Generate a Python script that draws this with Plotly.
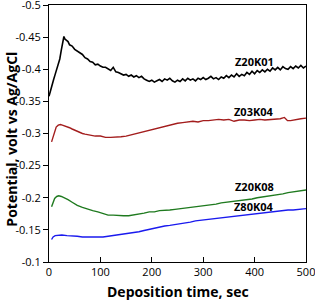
import plotly.graph_objects as go

# Z20K01 (black)
t_k01 = [0, 3, 6, 9, 12, 15, 18, 21, 24, 27, 29, 31, 34, 37, 40,
         45, 50, 55, 60, 65, 70, 75, 80, 85, 90, 95, 100, 105, 110, 115, 120, 125, 130, 135,
         140, 145, 150, 155, 160, 165, 170, 175, 180, 185, 190, 195, 200, 205, 210, 215, 220,
         225, 230, 235, 240, 245, 250, 255, 260, 265, 270, 275, 280, 285, 290, 295, 300, 305,
         310, 315, 320, 325, 330, 335, 340, 345, 350, 355, 360, 365, 370, 375, 380, 385, 390,
         395, 400, 405, 410, 415, 420, 425, 430, 435, 440, 445, 450, 455, 460, 465, 470, 475,
         480, 485, 490, 495, 500]
v_k01 = [-0.358, -0.368, -0.376, -0.384, -0.392, -0.399, -0.407, -0.416, -0.430, -0.446, -0.451,
         -0.447, -0.445, -0.443, -0.438,
         -0.436, -0.431, -0.428, -0.425, -0.423, -0.418, -0.416, -0.412, -0.411, -0.407, -0.408,
         -0.405, -0.403, -0.403, -0.400, -0.398, -0.403, -0.396, -0.395,
         -0.393, -0.391, -0.392, -0.389, -0.391, -0.388, -0.390, -0.387, -0.389, -0.385, -0.383,
         -0.381, -0.383, -0.380, -0.382, -0.384, -0.381, -0.385, -0.383, -0.386, -0.382, -0.380,
         -0.383, -0.381, -0.385, -0.382, -0.386, -0.383, -0.385, -0.382, -0.386, -0.384, -0.387,
         -0.384, -0.386, -0.389, -0.385, -0.387, -0.384, -0.388, -0.386, -0.390, -0.387, -0.391,
         -0.388, -0.393, -0.389, -0.392, -0.390, -0.395, -0.392, -0.397, -0.393, -0.398, -0.395,
         -0.399, -0.396, -0.400, -0.397, -0.402, -0.399, -0.403, -0.399, -0.404, -0.401, -0.400,
         -0.404, -0.401, -0.405, -0.402, -0.406, -0.402, -0.405]

# Z03K04 (dark red)
t_k04a = [5, 8, 11, 14, 18, 22, 26, 30, 35, 40, 45, 50, 55, 60, 65, 70, 75, 80, 90, 100, 110,
          120, 130, 140, 150, 160, 170, 180, 190, 200, 210, 220, 230, 240, 250, 260, 270, 280,
          290, 300, 310, 320, 330, 340, 350, 360, 370, 380, 390, 400, 410, 420, 430, 440, 450,
          458, 464, 470, 480, 490, 500]
v_k04a = [-0.287, -0.296, -0.304, -0.310, -0.313, -0.314, -0.313, -0.312, -0.310, -0.309, -0.307,
          -0.305, -0.303, -0.302, -0.300, -0.299, -0.298, -0.297, -0.296, -0.296, -0.294, -0.294,
          -0.294, -0.295, -0.296, -0.298, -0.301, -0.302, -0.304, -0.306, -0.309, -0.310, -0.313,
          -0.314, -0.316, -0.317, -0.318, -0.319, -0.318, -0.320, -0.320, -0.321, -0.322, -0.321,
          -0.322, -0.319, -0.321, -0.321, -0.320, -0.321, -0.322, -0.321, -0.322, -0.322, -0.323,
          -0.325, -0.320, -0.320, -0.322, -0.323, -0.324]

# Z20K08 (green)
t_k08 = [5, 8, 11, 15, 19, 24, 30, 37, 45, 55, 65, 75, 85, 95, 105, 115, 125, 135, 145, 155,
         165, 175, 185, 195, 205, 215, 225, 235, 245, 255, 265, 275, 285, 295, 305, 315, 325,
         335, 345, 355, 365, 375, 385, 395, 405, 415, 425, 435, 445, 455, 465, 475, 485, 495, 500]
v_k08 = [-0.186, -0.193, -0.199, -0.202, -0.203, -0.202, -0.200, -0.197, -0.193, -0.188, -0.185,
         -0.182, -0.180, -0.178, -0.175, -0.173, -0.173, -0.172, -0.172, -0.172, -0.173, -0.174,
         -0.176, -0.178, -0.178, -0.180, -0.180, -0.181, -0.182, -0.183, -0.184, -0.185, -0.186,
         -0.186, -0.188, -0.189, -0.190, -0.192, -0.193, -0.193, -0.195, -0.196, -0.197, -0.198,
         -0.200, -0.201, -0.203, -0.204, -0.205, -0.206, -0.208, -0.209, -0.210, -0.212, -0.212]

# Z80K04 (blue)
t_k04b = [5, 8, 12, 18, 25, 35, 45, 55, 65, 75, 85, 95, 105, 115, 125, 135, 145, 155, 165, 175,
          185, 195, 205, 215, 225, 235, 245, 255, 265, 275, 285, 295, 305, 315, 325, 335, 345,
          355, 365, 375, 385, 395, 405, 415, 425, 435, 445, 455, 465, 475, 485, 495, 500]
v_k04b = [-0.135, -0.139, -0.141, -0.142, -0.142, -0.141, -0.141, -0.140, -0.139, -0.139, -0.138,
          -0.139, -0.139, -0.140, -0.141, -0.142, -0.143, -0.144, -0.146, -0.147, -0.149, -0.151,
          -0.153, -0.154, -0.156, -0.157, -0.158, -0.159, -0.161, -0.162, -0.164, -0.165, -0.166,
          -0.167, -0.168, -0.169, -0.170, -0.171, -0.172, -0.173, -0.174, -0.175, -0.176, -0.177,
          -0.178, -0.179, -0.179, -0.180, -0.181, -0.181, -0.182, -0.183, -0.183]

series_names = ["Z20K01", "Z03K04", "Z20K08", "Z80K04"]
label_x = [399, 399, 399, 399]
label_y = [-0.412, -0.334, -0.217, -0.186]

x_ticks = [0, 100, 200, 300, 400, 500]
y_ticks = [-0.5, -0.45, -0.4, -0.35, -0.3, -0.25, -0.2, -0.15, -0.1]
y_ticktext = ["-0.5", "-0.45", "-0.4", "-0.35", "-0.3", "-0.25", "-0.2", "-0.15", "-0.1"]

x_title = "Deposition time, sec"
y_title = "Potential, volt vs Ag/AgCl"

colors = ["#000000", "#a31d1d", "#1f7a1f", "#1a1aee"]
widths = [1.6, 1.4, 1.4, 1.4]

fig = go.Figure()
for t, v, c, w, n in zip([t_k01, t_k04a, t_k08, t_k04b], [v_k01, v_k04a, v_k08, v_k04b],
                         colors, widths, series_names):
    fig.add_trace(go.Scatter(x=t, y=v, mode="lines", line=dict(color=c, width=w), name=n,
                             showlegend=False))

for n, lx, ly in zip(series_names, label_x, label_y):
    fig.add_annotation(x=lx, y=ly, text="<b>" + n + "</b>", showarrow=False,
                       font=dict(family="Open Sans", size=11, color="#000000"))

# axis titles as paper-anchored annotations
fig.add_annotation(xref="paper", yref="paper", x=0.5, y=-0.113, text="<b>" + x_title + "</b>",
                   showarrow=False, xanchor="center", yanchor="middle",
                   font=dict(family="Open Sans", size=14, color="#000000"))
fig.add_annotation(xref="paper", yref="paper", x=-0.144, y=0.48, text="<b>" + y_title + "</b>",
                   showarrow=False, xanchor="center", yanchor="middle", textangle=-90,
                   font=dict(family="Open Sans", size=14, color="#000000"))

fig.update_layout(
    width=315, height=307,
    margin=dict(l=49, r=9, t=5, b=45),
    paper_bgcolor="white", plot_bgcolor="white",
    font=dict(family="Open Sans", color="#000000"),
)
fig.update_xaxes(
    range=[0, 500], tickvals=x_ticks, ticks="inside", ticklen=5, tickcolor="#000",
    showline=True, linecolor="#000", linewidth=1, mirror=True, showgrid=False, zeroline=False,
    tickfont=dict(family="Open Sans", size=11), automargin=False, ticklabeloverflow="allow",
)
fig.update_yaxes(
    range=[-0.1, -0.5], tickvals=y_ticks, ticktext=y_ticktext, ticks="outside", ticklen=5,
    tickcolor="#000", showline=True, linecolor="#000", linewidth=1, mirror=True,
    showgrid=False, zeroline=False, automargin=False, ticklabeloverflow="allow",
    tickfont=dict(family="Open Sans", size=11),
)

fig.write_html("out.html", config={"displayModeBar": False})

# remove default page margin so the figure sits at the window's top-left corner
with open("out.html", "r", encoding="utf-8") as f:
    html = f.read()
html = html.replace("<head>", "<head><style>html,body{margin:0;padding:0;overflow:hidden;}</style>", 1)
with open("out.html", "w", encoding="utf-8") as f:
    f.write(html)
